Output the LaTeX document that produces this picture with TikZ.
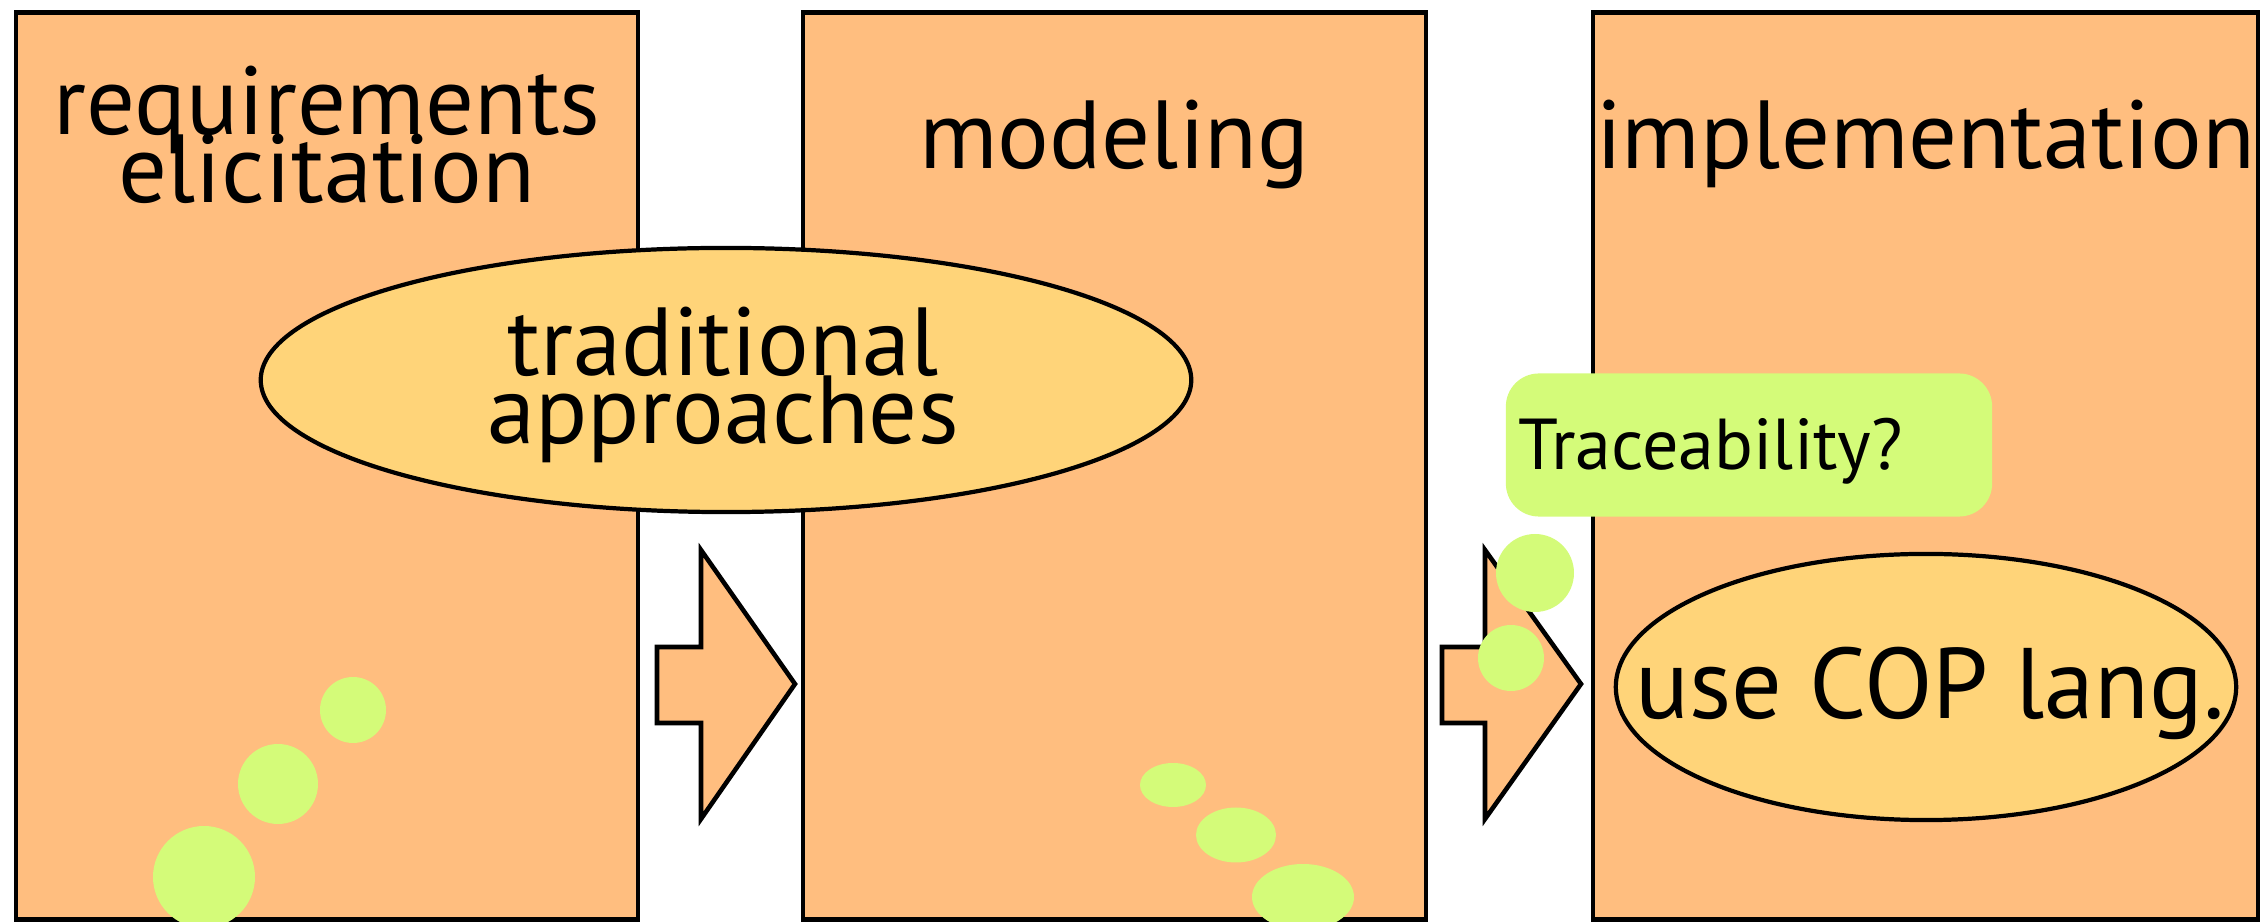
\documentclass[tikz,border=0pt]{standalone}
\usepackage{fontspec}
\setmainfont{PT Sans}
\usetikzlibrary{shapes.geometric}

\definecolor{phasefill}{HTML}{FFBE7F}
\definecolor{ovalfill}{HTML}{FFD479}
\definecolor{notefill}{HTML}{D4FB79}

% large label font with a fixed, tight line distance
\newcommand\labelfont{\fontsize{27.5}{19.6}\selectfont\lineskiplimit=-100pt\relax\lineskip=0pt\relax}

\begin{document}
\begin{tikzpicture}[x=0.01cm, y=-0.01cm,
  phase/.style={draw=black, line width=1.3pt, fill=phasefill, inner sep=0pt},
  oval/.style={ellipse, draw=black, line width=1.2pt, fill=ovalfill, inner sep=0pt},
  flow/.style={draw=black, line width=1.3pt, fill=phasefill, line join=miter},
  dot/.style={fill=notefill, draw=none},
  bigtext/.style={font=\labelfont, align=center, inner sep=0pt, anchor=base},
]
\useasboundingbox (0,0) rectangle (2268,922);
\clip (0,0) rectangle (2268,922);

% three development phases
\node[phase, minimum width=6.22cm, minimum height=9.06cm] (req) at (327,466) {};
\node[phase, minimum width=6.23cm, minimum height=9.06cm] (mod) at (1114.5,466) {};
\node[phase, minimum width=6.65cm, minimum height=9.06cm] (impl) at (1925.5,466) {};

% two-line labels are placed by the baseline of their last line
\node[bigtext] (reqlabel) at (327,203) {requirements\\elicitation};
\node[bigtext] (modlabel) at (1114.5,169) {modeling};
\node[bigtext] (impllabel) at (1925.5,169) {implementation};

% block arrows between the phases
\draw[flow] (657,647) -- (701,647) -- (701,550) -- (795,684) -- (701,819)
  -- (701,723) -- (657,723) -- cycle;
\draw[flow] (1442,647) -- (1485,647) -- (1485,550) -- (1581,684) -- (1485,819)
  -- (1485,723) -- (1442,723) -- cycle;

% dots in the first phase
\fill[dot] (353,710) circle [radius=33];
\fill[dot] (278,784) circle [radius=40];
\fill[dot] (204,877) circle [radius=51];

% dots in the second phase
\fill[dot] (1173,785) ellipse [x radius=33, y radius=22];
\fill[dot] (1236,835) ellipse [x radius=40, y radius=27.5];
\fill[dot] (1303,897) ellipse [x radius=51, y radius=33];

% traditional approaches
\node[oval, minimum width=9.30cm, minimum height=2.64cm] (trad) at (726,380) {};
\node[bigtext] (tradlabel) at (723,444) {traditional\\approaches};

% COP language
\node[oval, minimum width=6.20cm, minimum height=2.66cm] (cop) at (1926,687) {};
\node[font=\fontsize{28.5}{34}\selectfont, inner sep=0pt, anchor=base] (coplabel) at (1930,719) {use COP lang.};

% traceability note with its thought bubbles
\fill[dot] (1535,573) circle [radius=39];
\fill[dot] (1511,658) circle [radius=33];
\node[dot, rounded corners=0.33cm, minimum width=4.86cm, minimum height=1.43cm, inner sep=0pt] (trace) at (1749,445) {};
\node[font=\fontsize{20.5}{24}\selectfont, inner sep=0pt, anchor=base west] (tracelabel) at (1518,470) {Traceability?};
\end{tikzpicture}
\end{document}
